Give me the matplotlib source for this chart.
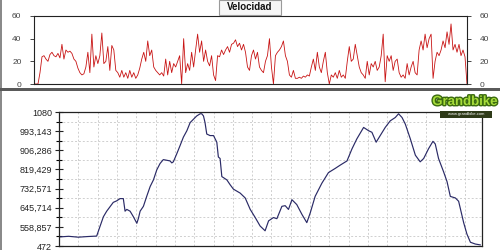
import numpy as np
import matplotlib
matplotlib.use("Agg")
import matplotlib.pyplot as plt
from matplotlib.patches import Rectangle
import matplotlib.patheffects as pe

plt.rcParams['font.family'] = ['Liberation Sans', 'DejaVu Sans']

# ---------------- data ----------------
velocidad = [
    0, 0, 0, 10, 24, 25, 22, 20, 26, 28, 25, 24, 27, 23, 35, 22, 30, 28, 29, 27,
    22, 20, 14, 10, 8, 9, 15, 28, 10, 44, 15, 25, 18, 25, 45, 18, 20, 33, 12, 34,
    30, 12, 10, 6, 12, 6, 10, 5, 12, 6, 10, 5, 8, 14, 22, 28, 20, 38, 25, 30,
    15, 12, 10, 8, 10, 7, 22, 8, 20, 10, 18, 15, 20, 25, 0, 40, 10, 18, 12, 28,
    15, 30, 44, 28, 38, 20, 30, 20, 16, 25, 8, 3, 25, 24, 30, 26, 30, 33, 28, 35,
    36, 39, 33, 36, 30, 35, 28, 15, 12,
    25, 30, 22, 28, 15, 12, 10, 20, 25, 40, 15, 0, 25, 28, 30, 33, 38, 25, 20, 8,
    6, 12, 5, 5, 6, 5, 7, 6, 8, 7, 15, 22, 12, 28, 15, 10, 20, 28, 10, 0,
    8, 6, 10, 5, 12, 6, 8, 5, 20, 33, 20, 22, 35, 25, 15, 10, 8, 5, 20, 8,
    18, 15, 20, 12, 15, 25, 44, 2, 25, 20, 25, 12, 20, 22, 10, 6, 8, 5, 18, 8,
    15, 20, 10, 8, 30, 38, 30, 44, 32, 40, 44, 5, 20, 28, 25, 30, 38, 32, 46, 35,
    53, 30, 35, 28, 35, 25, 30, 24, 0,
]

dist_km = [
    0.00, 0.50, 1.00, 1.50, 1.95, 2.12, 2.30, 2.47, 2.64, 2.81, 2.99, 3.16, 3.33,
    3.42, 3.51, 3.68, 3.85, 4.03, 4.11, 4.20, 4.37, 4.54, 4.72, 4.89, 5.06, 5.23,
    5.40, 5.58, 5.75, 5.84, 5.92, 6.10, 6.27, 6.44, 6.62, 6.79, 6.96, 7.13, 7.31,
    7.39, 7.48, 7.56, 7.65, 7.82, 8.00, 8.17, 8.25, 8.34, 8.43, 8.69, 8.86, 9.03,
    9.38, 9.64, 9.90, 10.16, 10.41, 10.67, 10.85, 11.10, 11.28, 11.54, 11.71,
    11.88, 12.06, 12.31, 12.58, 12.83, 13.01, 13.26, 13.61, 13.95, 14.30, 14.56,
    14.91, 15.17, 15.42, 15.77, 16.03, 16.20, 16.42, 16.63, 16.89, 17.15, 17.41,
    17.58, 17.76, 17.93, 18.19, 18.45, 18.70, 18.88, 19.13, 19.36, 19.48, 19.65,
    19.91, 20.09, 20.26, 20.52, 20.69, 20.95, 21.12, 21.30, 21.55, 21.81,
]
altitud = [
    513, 516, 512, 515, 517, 560, 605, 630, 650, 670, 677, 687, 687,
    630, 638, 630, 605, 575, 597, 630, 652, 697, 742, 772, 817, 846,
    864, 861, 858, 849, 854, 891, 928, 966, 995, 1032, 1047, 1062, 1072,
    1072, 1062, 1032, 980, 973, 973, 943, 876, 869, 787, 772, 750, 730,
    712, 690, 638, 601, 563, 541, 586, 601, 596, 652, 655,
    638, 682, 660, 615, 578, 623, 697, 757, 805, 824, 839,
    858, 913, 958, 1010, 995, 988, 943, 973, 1010, 1040, 1055,
    1072, 1055, 1025, 958, 884, 854, 869, 913, 947, 935, 869,
    809, 764, 697, 690, 675, 578, 526, 489, 481, 477,
]

alt_ticks = [472, 558.857, 645.714, 732.571, 819.429, 906.286, 993.143, 1080]
alt_labels = ["472", "558,857", "645,714", "732,571", "819,429", "906,286", "993,143", "1080"]
vel_ticks = [0, 20, 40, 60]
XMAX = 21.9

# ---------------- figure ----------------
W, H = 500, 250
fig = plt.figure(figsize=(5, 2.5), dpi=100)
fig.patch.set_facecolor('white')

def fx(px):
    return px / W

def fy(py):
    return 1 - py / H

# frame decorations
fig.add_artist(Rectangle((0, 0), fx(2), 1, transform=fig.transFigure,
                         facecolor='#8a8a8a', edgecolor='none'))
fig.add_artist(Rectangle((0, fy(91)), 1, fy(88) - fy(91), transform=fig.transFigure,
                         facecolor='#5a5a5a', edgecolor='none'))

# ---- top: velocidad ----
ax1 = fig.add_axes([fx(34), fy(84), fx(467 - 34), fy(16) - fy(84)])
xv = np.linspace(0, XMAX, len(velocidad))
ax1.plot(xv, velocidad, color='#c81414', lw=0.6)
ax1.set_xlim(0, XMAX)
ax1.set_ylim(0, 60)
ax1.set_yticks(vel_ticks)
ax1.set_xticks([])
ax1.tick_params(axis='y', which='both', left=True, right=True, labelleft=True,
                labelright=True, direction='out', length=3, width=0.7,
                labelsize=6, colors='#444444', pad=6)
for s in ax1.spines.values():
    s.set_color('#222222')
    s.set_linewidth(0.8)

# title box
fig.add_artist(Rectangle((fx(219), fy(15)), fx(62), fy(0) - fy(15), transform=fig.transFigure,
                         facecolor='#f6f6f6', edgecolor='#9a9a9a', lw=0.8, zorder=5))
fig.text(fx(250), fy(7.5), "Velocidad", ha='center', va='center', fontsize=7,
         fontweight='bold', color='#111111', zorder=6)

# ---- bottom: altitud ----
ax2 = fig.add_axes([fx(59), fy(246), fx(482 - 59), fy(112) - fy(246)])
ax2.plot(dist_km, altitud, color='#2a2a66', lw=0.85)
ax2.set_xlim(0, XMAX)
ax2.set_ylim(472, 1080)
ax2.set_yticks(alt_ticks)
ax2.set_yticklabels(alt_labels)
minor = [(alt_ticks[i] + alt_ticks[i + 1]) / 2 for i in range(len(alt_ticks) - 1)]
ax2.set_yticks(minor, minor=True)
ax2.set_xticks(list(range(1, 22)), minor=True)
ax2.set_xticks([])
ax2.tick_params(axis='x', which='both', bottom=False, labelbottom=False)
ax2.tick_params(axis='y', which='major', direction='inout', length=6, width=0.8,
                labelsize=6.5, colors='#222222', pad=2)
ax2.tick_params(axis='y', which='minor', direction='inout', length=4, width=0.8)
ax2.grid(which='minor', color='#cfcfcf', linestyle=(0, (2, 2)), lw=0.7)
ax2.set_axisbelow(True)
for s in ax2.spines.values():
    s.set_color('#222222')
    s.set_linewidth(0.9)

# logo
fig.add_artist(Rectangle((fx(440), fy(118)), fx(52), fy(111) - fy(118),
                         transform=fig.transFigure, facecolor='#2e3a18',
                         edgecolor='none', zorder=5))
t = fig.text(fx(465), fy(102), "Grandbike", ha='center', va='center', fontsize=9.5,
             fontweight='bold', color='#a6dc3a', zorder=6)
t.set_path_effects([pe.withStroke(linewidth=2, foreground='#3b6a10')])
fig.text(fx(466), fy(114.5), "www.grandbike.com", ha='center', va='center', fontsize=3,
         color='white', zorder=6)

fig.savefig("out.png", dpi=100)
